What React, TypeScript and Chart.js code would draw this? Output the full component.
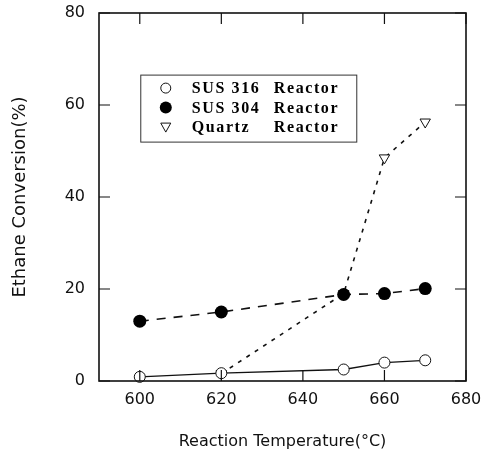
import React, { useEffect, useRef } from 'react';
import { Chart, registerables } from 'chart.js';
Chart.register(...registerables);

const temps316 = [600, 620, 650, 660, 670];
const sus316 = [0.9, 1.7, 2.5, 4.0, 4.5];
const temps304 = [600, 620, 650, 660, 670];
const sus304 = [13.0, 15.0, 18.8, 19.0, 20.1];
const tempsQuartz = [620, 650, 660, 670];
const quartz = [1.6, 19.0, 48.5, 56.3];
const xTicks = [600, 620, 640, 660, 680];
const yTicks = [0, 20, 40, 60, 80];
const seriesLabels = ['SUS 316 Reactor', 'SUS 304 Reactor', 'Quartz Reactor'];
const xTitle = 'Reaction Temperature(\u00B0C)';
const yTitle = 'Ethane Conversion(%)';

const INK = '#111';

function drawMarker(ctx: CanvasRenderingContext2D, kind: number, x: number, y: number) {
  ctx.save();
  ctx.lineWidth = 1;
  ctx.strokeStyle = INK;
  if (kind === 0) {
    ctx.beginPath();
    ctx.arc(x, y, 5, 0, Math.PI * 2);
    ctx.fillStyle = '#fff';
    ctx.fill();
    ctx.stroke();
  } else if (kind === 1) {
    ctx.beginPath();
    ctx.arc(x, y, 6, 0, Math.PI * 2);
    ctx.fillStyle = '#000';
    ctx.fill();
  } else {
    ctx.beginPath();
    ctx.moveTo(x - 5, y - 4);
    ctx.lineTo(x + 5, y - 4);
    ctx.lineTo(x, y + 5);
    ctx.closePath();
    ctx.fillStyle = '#fff';
    ctx.fill();
    ctx.stroke();
  }
  ctx.restore();
}

const framePlugin = {
  id: 'frame',
  afterDatasetsDraw(chart: any) {
    const { ctx, chartArea: a, scales } = chart;
    const xs = scales.x;
    const ys = scales.y;
    ctx.save();
    ctx.strokeStyle = INK;
    ctx.lineWidth = 1.6;
    ctx.strokeRect(a.left, a.top, a.right - a.left, a.bottom - a.top);
    ctx.lineWidth = 1.2;
    const t = 11;
    ctx.beginPath();
    for (const v of xTicks) {
      const px = xs.getPixelForValue(v);
      ctx.moveTo(px, a.bottom);
      ctx.lineTo(px, a.bottom - t);
      ctx.moveTo(px, a.top);
      ctx.lineTo(px, a.top + t);
    }
    for (const v of yTicks) {
      const py = ys.getPixelForValue(v);
      ctx.moveTo(a.left, py);
      ctx.lineTo(a.left + t, py);
      ctx.moveTo(a.right, py);
      ctx.lineTo(a.right - t, py);
    }
    ctx.stroke();

    // legend box
    const bx = xs.getPixelForValue(600) + 1;
    const by = ys.getPixelForValue(66.5);
    const bw = 216;
    const bh = 67;
    ctx.lineWidth = 1;
    ctx.strokeStyle = '#333';
    ctx.strokeRect(bx, by, bw, bh);
    ctx.font = 'bold 16px "Liberation Serif"';
    (ctx as any).letterSpacing = '1.6px';
    ctx.fillStyle = '#000';
    ctx.textBaseline = 'middle';
    ctx.textAlign = 'left';
    seriesLabels.forEach((lab, i) => {
      const ry = by + 13 + i * 19.5;
      drawMarker(ctx, i, bx + 25, ry);
      const cut = lab.lastIndexOf(' ');
      ctx.fillText(lab.slice(0, cut), bx + 51, ry + 1);
      ctx.fillText(lab.slice(cut + 1), bx + 133, ry + 1);
    });
    ctx.restore();
  },
};

export default function App() {
  const ref = useRef<HTMLCanvasElement>(null);
  useEffect(() => {
    document.body.style.margin = '0';
    const c = ref.current!;
    const chart = new Chart(c, {
      type: 'line',
      data: {
        datasets: [
          {
            label: seriesLabels[0],
            data: temps316.map((x, i) => ({ x, y: sus316[i] })),
            borderColor: INK,
            borderWidth: 1.3,
            pointStyle: 'circle',
            pointRadius: 5.5,
            pointBackgroundColor: '#fff',
            pointBorderColor: INK,
            pointBorderWidth: 1,
          },
          {
            label: seriesLabels[1],
            data: temps304.map((x, i) => ({ x, y: sus304[i] })),
            borderColor: INK,
            borderWidth: 1.6,
            borderDash: [9, 8],
            pointStyle: 'circle',
            pointRadius: 6.5,
            pointBackgroundColor: '#000',
            pointBorderColor: '#000',
            pointBorderWidth: 0,
          },
          {
            label: seriesLabels[2],
            data: tempsQuartz.map((x, i) => ({ x, y: quartz[i] })),
            borderColor: INK,
            borderWidth: 1.6,
            borderDash: [4, 6],
            pointStyle: 'triangle',
            rotation: 180,
            pointRadius: 6,
            pointBackgroundColor: '#fff',
            pointBorderColor: INK,
            pointBorderWidth: 1,
          },
        ],
      },
      options: {
        responsive: false,
        animation: false,
        clip: false as any,
        layout: { autoPadding: false, padding: { top: 13, right: 18, left: 0, bottom: 0 } },
        plugins: { legend: { display: false }, tooltip: { enabled: false } },
        scales: {
          x: {
            type: 'linear',
            min: 590,
            max: 680,
            afterBuildTicks: (s: any) => {
              s.ticks = xTicks.map((v) => ({ value: v }));
            },
            afterFit: (s: any) => {
              s.height = 81;
              s.paddingLeft = 0;
              s.paddingRight = 0;
            },
            grid: { display: false, drawTicks: false },
            border: { display: false },
            ticks: {
              color: INK,
              padding: 9,
              font: { family: '"DejaVu Sans"', size: 16 },
              maxRotation: 0,
            },
            title: {
              display: true,
              text: xTitle,
              color: INK,
              font: { family: '"DejaVu Sans"', size: 16 },
              padding: { top: 0, bottom: 11 },
            },
          },
          y: {
            type: 'linear',
            min: 0,
            max: 80,
            afterBuildTicks: (s: any) => {
              s.ticks = yTicks.map((v) => ({ value: v }));
            },
            afterFit: (s: any) => {
              s.width = 99;
              s.paddingTop = 0;
              s.paddingBottom = 0;
            },
            grid: { display: false, drawTicks: false },
            border: { display: false },
            ticks: {
              color: INK,
              padding: 14,
              font: { family: '"DejaVu Sans"', size: 16 },
            },
            title: {
              display: true,
              text: yTitle,
              color: INK,
              font: { family: '"DejaVu Sans"', size: 18 },
              padding: { top: 10, bottom: 0 },
            },
          },
        },
      },
      plugins: [framePlugin],
    });
    return () => chart.destroy();
  }, []);
  return (
    <div style={{ width: 484, height: 462 }}>
      <canvas ref={ref} width={484} height={462} />
    </div>
  );
}
